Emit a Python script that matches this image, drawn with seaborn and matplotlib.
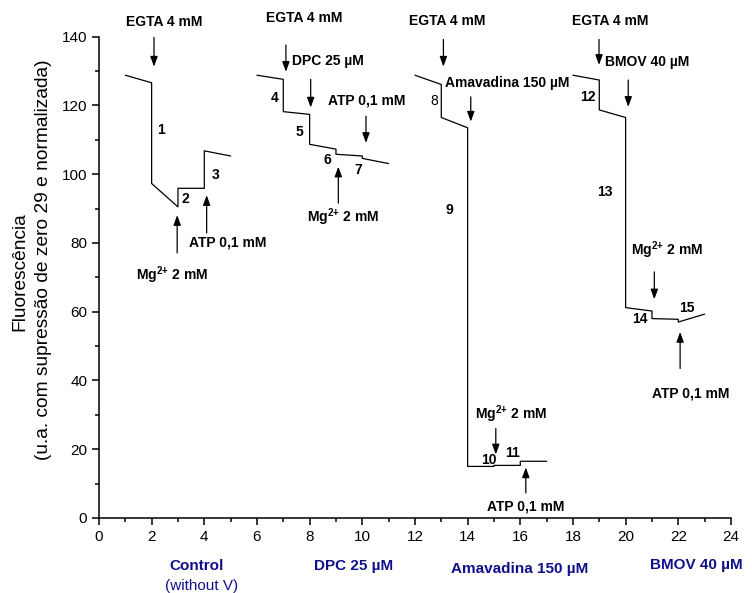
import matplotlib
matplotlib.use('Agg')
import matplotlib.pyplot as plt
import seaborn as sns
import pandas as pd

# fluorescence traces (x = time step, y = a.u.)
control_x = [1.0, 2.0, 2.0, 3.0, 3.0, 4.0, 4.0, 5.0]
control_y = [128.8, 126.6, 97.3, 90.5, 95.9, 95.9, 106.8, 105.3]

dpc_x = [6.0, 7.0, 7.0, 8.0, 8.0, 9.0, 9.0, 10.0, 10.0, 11.0]
dpc_y = [128.8, 127.6, 118.2, 117.4, 108.7, 107.3, 105.8, 105.3, 104.6, 103.1]

amav_x = [12.0, 13.0, 13.0, 14.0, 14.0, 15.0, 15.0, 16.0, 16.0, 17.0]
amav_y = [128.8, 126.1, 116.5, 113.5, 15.0, 15.0, 15.3, 15.3, 16.5, 16.5]

bmov_x = [18.0, 19.0, 19.0, 20.0, 20.0, 21.0, 21.0, 22.0, 22.0, 23.0]
bmov_y = [128.8, 127.4, 118.7, 116.5, 61.2, 60.2, 58.0, 57.8, 57.0, 59.3]

trace_names = ['Control', 'DPC', 'Amavadina', 'BMOV']

MG = r'Mg$^{\mathbf{2{+}}}$ 2 mM'

# (text, x, y, ha, bold)
labels = [
    ('EGTA 4 mM', 2.46, 144.4, 'center', True),
    ('EGTA 4 mM', 7.80, 145.3, 'center', True),
    ('DPC 25 µM', 7.32, 133.0, 'left', True),
    ('ATP 0,1 mM', 10.17, 121.4, 'center', True),
    ('1', 2.34, 113.0, 'center', True),
    ('2', 3.29, 92.7, 'center', True),
    ('3', 4.43, 99.7, 'center', True),
    ('4', 6.68, 122.1, 'center', True),
    ('5', 7.63, 112.3, 'center', True),
    ('6', 8.69, 104.1, 'center', True),
    ('7', 9.85, 101.2, 'center', True),
    (MG, 2.78, 70.6, 'center', True),
    ('ATP 0,1 mM', 4.88, 80.0, 'center', True),
    (MG, 9.25, 87.6, 'center', True),
    ('EGTA 4 mM', 13.21, 144.6, 'center', True),
    ('Amavadina 150 µM', 13.14, 126.4, 'left', True),
    ('8', 12.73, 121.4, 'center', False),
    ('EGTA 4 mM', 19.41, 144.6, 'center', True),
    ('BMOV 40 µM', 19.22, 132.7, 'left', True),
    ('12', 18.58, 122.5, 'center', True),
    ('13', 19.22, 94.9, 'center', True),
    ('9', 13.30, 89.6, 'center', True),
    (MG, 21.58, 77.9, 'center', True),
    ('15', 22.32, 61.2, 'center', True),
    ('14', 20.55, 58.0, 'center', True),
    ('ATP 0,1 mM', 22.48, 36.2, 'center', True),
    (MG, 15.63, 30.2, 'center', True),
    ('10', 14.79, 17.0, 'center', True),
    ('11', 15.71, 18.9, 'center', True),
    ('ATP 0,1 mM', 16.19, 3.4, 'center', True),
]

# (x, y_tail, y_tip)
arrows = [
    (2.09, 139.8, 131.3),
    (7.10, 137.6, 129.8),
    (8.04, 127.6, 119.4),
    (10.14, 116.9, 109.1),
    (2.97, 77.1, 88.1),
    (4.09, 82.9, 93.9),
    (9.09, 91.6, 102.2),
    (13.08, 139.2, 131.3),
    (14.12, 122.5, 115.3),
    (18.99, 139.2, 131.8),
    (20.10, 127.4, 119.6),
    (21.09, 71.6, 63.6),
    (22.07, 43.5, 54.1),
    (15.07, 26.0, 18.5),
    (16.21, 7.3, 14.7),
]

# condition labels under the x axis
cond_labels = [
    ('Control', 3.71, -14.0, True),
    ('(without V)', 3.91, -19.9, False),
    ('DPC 25 µM', 9.68, -14.0, True),
    ('Amavadina 150 µM', 15.99, -14.7, True),
    ('BMOV 40 µM', 22.67, -13.8, True),
]

ylabel_lines = ['Fluorescência', '(u.a. com supressão de zero 29 e normalizada)']

sns.set_theme(style='ticks')
plt.rcParams['font.family'] = ['Liberation Sans', 'DejaVu Sans']
plt.rcParams['mathtext.fontset'] = 'custom'
plt.rcParams['mathtext.rm'] = 'Liberation Sans'
plt.rcParams['mathtext.bf'] = 'Liberation Sans:bold'
for key in ['text.color', 'axes.labelcolor', 'xtick.color', 'ytick.color', 'axes.edgecolor']:
    plt.rcParams[key] = 'black'

frames = []
for name, xs, ys in zip(trace_names, [control_x, dpc_x, amav_x, bmov_x],
                        [control_y, dpc_y, amav_y, bmov_y]):
    frames.append(pd.DataFrame({'x': xs, 'y': ys, 'trace': name}))
df = pd.concat(frames, ignore_index=True)

fig = plt.figure(figsize=(7.52, 5.93), dpi=100)
ax = fig.add_axes([0.1316, 0.1265, 0.8404, 0.8116])

sns.lineplot(data=df, x='x', y='y', units='trace', estimator=None, sort=False,
             color='black', lw=0.9, ax=ax)

for txt, x, y, ha, bold in labels:
    ax.text(x, y, txt, ha=ha, va='center', fontsize=10,
            fontweight='bold' if bold else 'normal', clip_on=False)

for x, y0, y1 in arrows:
    ax.annotate('', xy=(x, y1), xytext=(x, y0), annotation_clip=False,
                arrowprops=dict(arrowstyle='-|>,head_length=0.6,head_width=0.22',
                                lw=0.9, color='black', shrinkA=0, shrinkB=0,
                                mutation_scale=10))

for txt, x, y, bold in cond_labels:
    ax.text(x, y, txt, ha='center', va='center', fontsize=11, color='#10108a',
            fontweight='bold' if bold else 'normal', clip_on=False)

ax.set_xlim(0, 24)
ax.set_ylim(0, 140)
ax.set_xticks(range(0, 25, 2))
ax.set_xticks(range(1, 24, 2), minor=True)
ax.set_yticks(range(0, 141, 20))
ax.set_yticks(range(10, 140, 20), minor=True)
ax.tick_params(which='major', length=5, width=1.1, labelsize=11, direction='out')
ax.tick_params(which='minor', length=3, width=1.1, direction='out')
for s in ['top', 'right']:
    ax.spines[s].set_visible(False)
for s in ['left', 'bottom']:
    ax.spines[s].set_linewidth(1.1)

ax.set_xlabel('')
ax.set_ylabel('')
ax.text(-0.125, 0.512, ylabel_lines[0], rotation=90, ha='center', va='center',
        fontsize=13.8, transform=ax.transAxes)
ax.text(-0.088, 0.536, ylabel_lines[1], rotation=90, ha='center', va='center',
        fontsize=13.8, transform=ax.transAxes)

plt.savefig('out.png', dpi=100)
plt.close()
